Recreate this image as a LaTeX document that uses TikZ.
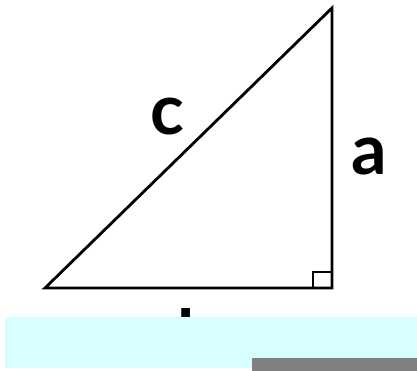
\documentclass[tikz,border=0pt]{standalone}
\usepackage{fontspec}
\setmainfont{Lato}
\usetikzlibrary{positioning}
\definecolor{stripcyan}{RGB}{216,255,255}

\begin{document}
\begin{tikzpicture}[
    x=1pt, y=-1pt,
    side/.style={line width=2.8pt, line join=miter},
    anglemark/.style={line width=1.8pt},
    lbl/.style={font=\fontsize{70}{70}\selectfont\bfseries, inner sep=0pt},
    band/.style={fill=stripcyan, draw=none},
    bar/.style={fill=black!50, draw=none}
]
    \useasboundingbox (0,0) rectangle (417,371);

    % corners
    \coordinate (left) at (45,288);
    \coordinate (right) at (332,288);
    \coordinate (top) at (332,8);

    % sides and right angle
    \draw[side] (left) -- (right) -- (top) -- cycle;
    \draw[anglemark] (right) ++(-19,0) -- ++(0,-16) -- ++(19,0);

    % labels
    \node[lbl] (hyp) at (167,117) {c};
    \node[lbl] (vert) at (369,156) {a};
    \node[lbl, anchor=base west] (base) at (177,360) {b};

    % bottom strip
    \fill[band] (5,317) rectangle (417,368);
    \fill[bar] (252,358) rectangle (417,371);
\end{tikzpicture}
\end{document}
